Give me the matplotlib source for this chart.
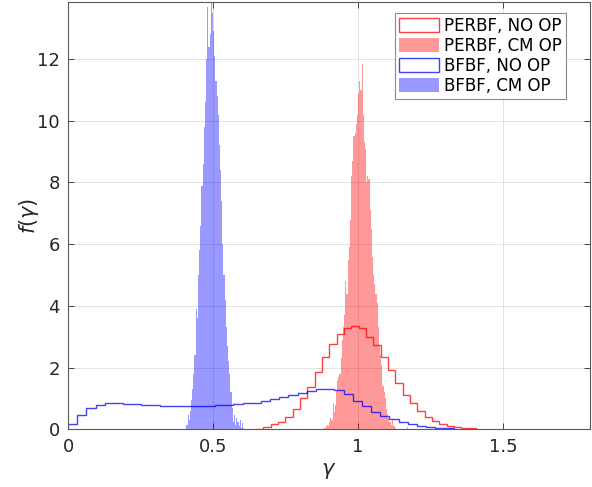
import numpy as np
import matplotlib
matplotlib.use("Agg")
import matplotlib.pyplot as plt

# PERBF, NO OP : wide bins, step outline
perbf_no_start = 0.648
perbf_no_width = 0.0253
perbf_no_vals = [0.02, 0.08, 0.16, 0.25, 0.41, 0.66, 1.00, 1.36, 1.85, 2.33,
                 2.77, 3.08, 3.28, 3.36, 3.27, 3.00, 2.73, 2.33, 1.92, 1.51,
                 1.11, 0.84, 0.60, 0.39, 0.27, 0.17, 0.12, 0.08, 0.04, 0.04]

# PERBF, CM OP : narrow bins, filled
perbf_cm_start = 0.884
perbf_cm_width = 0.004
perbf_cm_vals = [0.05, 0.10, 0.15, 0.10, 0.25, 0.35, 0.30, 0.85, 0.55, 0.80,
                 1.25, 1.55, 1.70, 1.80, 2.30, 2.90, 3.30, 3.70, 4.80, 4.40,
                 5.50, 5.90, 6.80, 8.20, 8.70, 9.50, 9.60, 9.90, 10.2, 10.9,
                 11.3, 11.0, 11.85, 10.2, 9.30, 9.10, 8.00, 8.20, 8.10, 7.10,
                 6.50, 5.60, 5.00, 4.70, 4.40, 4.10, 3.30, 2.70, 2.40, 2.10,
                 1.40, 1.20, 1.00, 0.65, 0.50, 0.35, 0.25, 0.15, 0.30, 0.10,
                 0.12, 0.05, 0, 0, 0, 0, 0, 0, 0, 0, 0, 0.06]

# BFBF, NO OP : wide bins, step outline
bfbf_no_start = 0.0
bfbf_no_width = 0.03167
bfbf_no_vals = [0.16, 0.46, 0.70, 0.80, 0.84, 0.84, 0.81, 0.81, 0.78, 0.78,
                0.76, 0.755, 0.755, 0.755, 0.76, 0.77, 0.78, 0.80, 0.81, 0.84,
                0.86, 0.93, 0.97, 1.06, 1.11, 1.19, 1.24, 1.30, 1.30, 1.28,
                1.13, 0.93, 0.75, 0.57, 0.43, 0.33, 0.25, 0.17, 0.12, 0.08,
                0.04, 0.04]

# BFBF, CM OP : narrow bins, filled
bfbf_cm_start = 0.408
bfbf_cm_width = 0.004
bfbf_cm_vals = [0.15, 0.45, 0.30, 0.60, 0.95, 1.30, 1.80, 2.40, 3.90, 3.60,
                5.00, 5.80, 6.60, 7.90, 8.60, 9.80, 10.6, 12.0, 13.7, 12.4,
                12.8, 13.85, 13.5, 12.9, 12.1, 11.3, 10.8, 10.2, 9.20, 8.40,
                7.40, 6.00, 5.00, 4.20, 3.30, 2.70, 2.20, 1.80, 1.20, 0.70,
                0.25, 0.45, 0.15, 0.35, 0.25, 0.10, 0.30, 0.05, 0.20, 0.05]

labels = ["PERBF, NO OP", "PERBF, CM OP", "BFBF, NO OP", "BFBF, CM OP"]


def draw_hist(ax, start, width, vals, **kw):
    edges = start + width * np.arange(len(vals) + 1)
    centers = (edges[:-1] + edges[1:]) / 2
    ax.hist(centers, bins=edges, weights=vals, **kw)


fig = plt.figure(figsize=(5.92, 4.87), dpi=100)
ax = fig.add_axes([0.1149, 0.1185, 0.8818, 0.878])

draw_hist(ax, perbf_no_start, perbf_no_width, perbf_no_vals, histtype="step",
          color=(1, 0, 0), alpha=0.75, linewidth=1.0, label=labels[0])
draw_hist(ax, perbf_cm_start, perbf_cm_width, perbf_cm_vals, histtype="stepfilled",
          facecolor=(1, 0, 0), alpha=0.4, linewidth=0, label=labels[1])
draw_hist(ax, bfbf_no_start, bfbf_no_width, bfbf_no_vals, histtype="step",
          color=(0, 0, 1), alpha=0.75, linewidth=1.0, label=labels[2])
draw_hist(ax, bfbf_cm_start, bfbf_cm_width, bfbf_cm_vals, histtype="stepfilled",
          facecolor=(0, 0, 1), alpha=0.4, linewidth=0, label=labels[3])

ax.set_xlim(0, 1.8)
ax.set_ylim(0, 13.86)
ax.set_xticks([0, 0.5, 1, 1.5])
ax.set_xticklabels(["0", "0.5", "1", "1.5"])
ax.set_yticks(range(0, 13, 2))

ax.grid(True, color="#262626", alpha=0.15, linewidth=0.6)
ax.set_axisbelow(True)
ax.tick_params(direction="in", top=True, right=True, length=4, width=0.6,
               labelsize=13, colors="#262626", pad=6)
for s in ax.spines.values():
    s.set_color("#5a5a5a")
    s.set_linewidth(0.8)

ax.set_xlabel(r"$\gamma$", fontsize=15, color="#262626", labelpad=4)
ax.set_ylabel(r"$f(\gamma)$", fontsize=15, color="#262626", labelpad=-3)

leg = ax.legend(loc="upper right", bbox_to_anchor=(0.954, 0.974), borderaxespad=0,
                fontsize=12, frameon=True, fancybox=False, framealpha=1,
                edgecolor="#8a8a8a", handlelength=2.4, handleheight=0.9,
                labelspacing=0.12, handletextpad=0.3, borderpad=0.25)
leg.get_frame().set_linewidth(0.8)

plt.savefig("out.png", dpi=100)
plt.close()
